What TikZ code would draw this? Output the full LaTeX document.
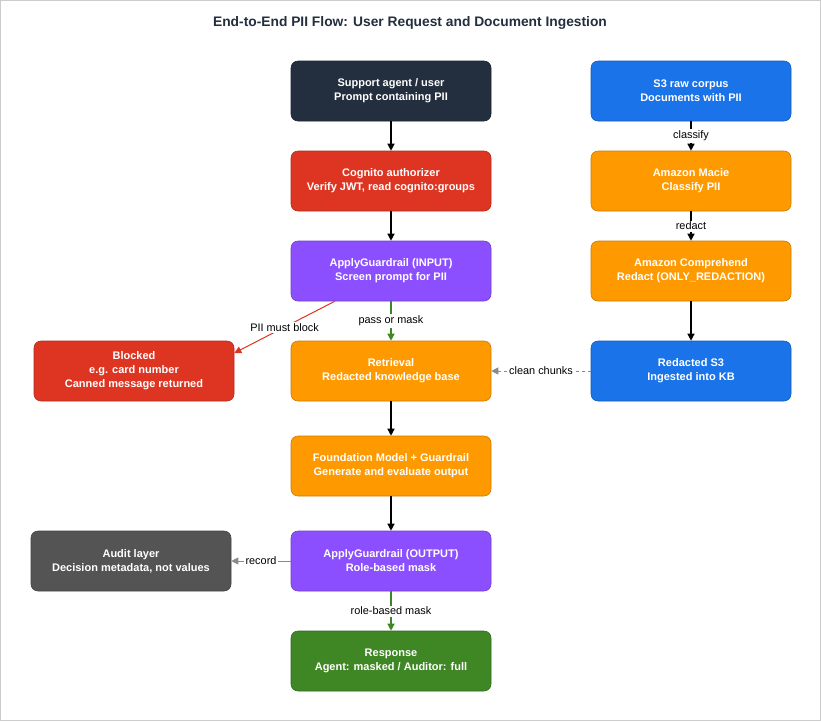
\documentclass[tikz,border=0pt]{standalone}
\usepackage{fontspec}
\setmainfont{Liberation Sans}
\usetikzlibrary{arrows.meta}
\definecolor{navy}{HTML}{232F3E}
\definecolor{awsred}{HTML}{DD3522}
\definecolor{awspurple}{HTML}{8C4FFF}
\definecolor{awsorange}{HTML}{FF9900}
\definecolor{awsblue}{HTML}{1A73E8}
\definecolor{awsgreen}{HTML}{3F8624}
\definecolor{awsgray}{HTML}{545454}
\definecolor{edgegray}{HTML}{8A8A8A}
\begin{document}
\begin{tikzpicture}[x=1pt,y=-1pt,
  box/.style={draw=#1!80!black, fill=#1, rounded corners=7pt, minimum width=200pt,
    minimum height=60pt, align=center, text=white, inner sep=2pt,
    font=\fontsize{11}{14}\selectfont\bfseries, line width=0.6pt},
  flow/.style={line width=1.3pt, -{Triangle[length=7pt,width=7pt]}},
  lbl/.style={fill=white, inner sep=1.5pt, font=\fontsize{10.9}{12}\selectfont, text=black}
]
% canvas and frame
\draw[draw=black!20, fill=white, line width=1pt] (0.5,0.5) rectangle (820.5,720.5);
\useasboundingbox (0,0) rectangle (821,721);

\node[font=\fontsize{13.8}{16}\selectfont\bfseries, text=navy] (title) at (410,23) {End-to-End PII Flow: User Request and Document Ingestion};

% request path
\node[box=navy]       (user)   at (391,91)  {Support agent / user\\Prompt containing PII};
\node[box=awsred]     (cog)    at (391,181) {Cognito authorizer\\Verify JWT, read cognito:groups};
\node[box=awspurple]  (gin)    at (391,271) {ApplyGuardrail (INPUT)\\Screen prompt for PII};
\node[box=awsorange]  (ret)    at (391,371) {Retrieval\\Redacted knowledge base};
\node[box=awsorange]  (fm)     at (391,466) {Foundation Model + Guardrail\\Generate and evaluate output};
\node[box=awspurple]  (gout)   at (391,561) {ApplyGuardrail (OUTPUT)\\Role-based mask};
\node[box=awsgreen]   (resp)   at (391,661) {Response\\Agent: masked / Auditor: full};

% side outcomes
\node[box=awsred]     (block)  at (134,371) {Blocked\\e.g. card number\\Canned message returned};
\node[box=awsgray]    (audit)  at (131,561) {Audit layer\\Decision metadata, not values};

% ingestion path
\node[box=awsblue]    (raw)    at (691,91)  {S3 raw corpus\\Documents with PII};
\node[box=awsorange]  (macie)  at (691,181) {Amazon Macie\\Classify PII};
\node[box=awsorange]  (comp)   at (691,271) {Amazon Comprehend\\Redact (ONLY\_REDACTION)};
\node[box=awsblue]    (clean)  at (691,371) {Redacted S3\\Ingested into KB};

% request connectors
\draw[flow] (user) -- (cog);
\draw[flow] (cog) -- (gin);
\draw[flow, draw=awsgreen, color=awsgreen] (gin) -- node[lbl]{pass or mask} (ret);
\coordinate (gsw) at ([xshift=44pt]gin.south west);
\coordinate (bne) at (block.north east |- 0,353);
\draw[flow, draw=awsred, color=awsred, line width=1pt] (gsw) -- node[lbl, pos=0.5]{PII must block} (bne);
\draw[flow] (ret) -- (fm);
\draw[flow] (fm) -- (gout);
\draw[flow, draw=edgegray, color=edgegray, line width=1pt] (gout) -- node[lbl]{record} (audit);
\draw[flow, draw=awsgreen, color=awsgreen] (gout) -- node[lbl]{role-based mask} (resp);

% ingestion connectors
\draw[flow] (raw) -- node[lbl]{classify} (macie);
\draw[flow] (macie) -- node[lbl]{redact} (comp);
\draw[flow] (comp) -- (clean);
\draw[flow, draw=edgegray, color=edgegray, line width=1pt, dashed] (clean) -- node[lbl]{clean chunks} (ret);
\end{tikzpicture}
\end{document}
